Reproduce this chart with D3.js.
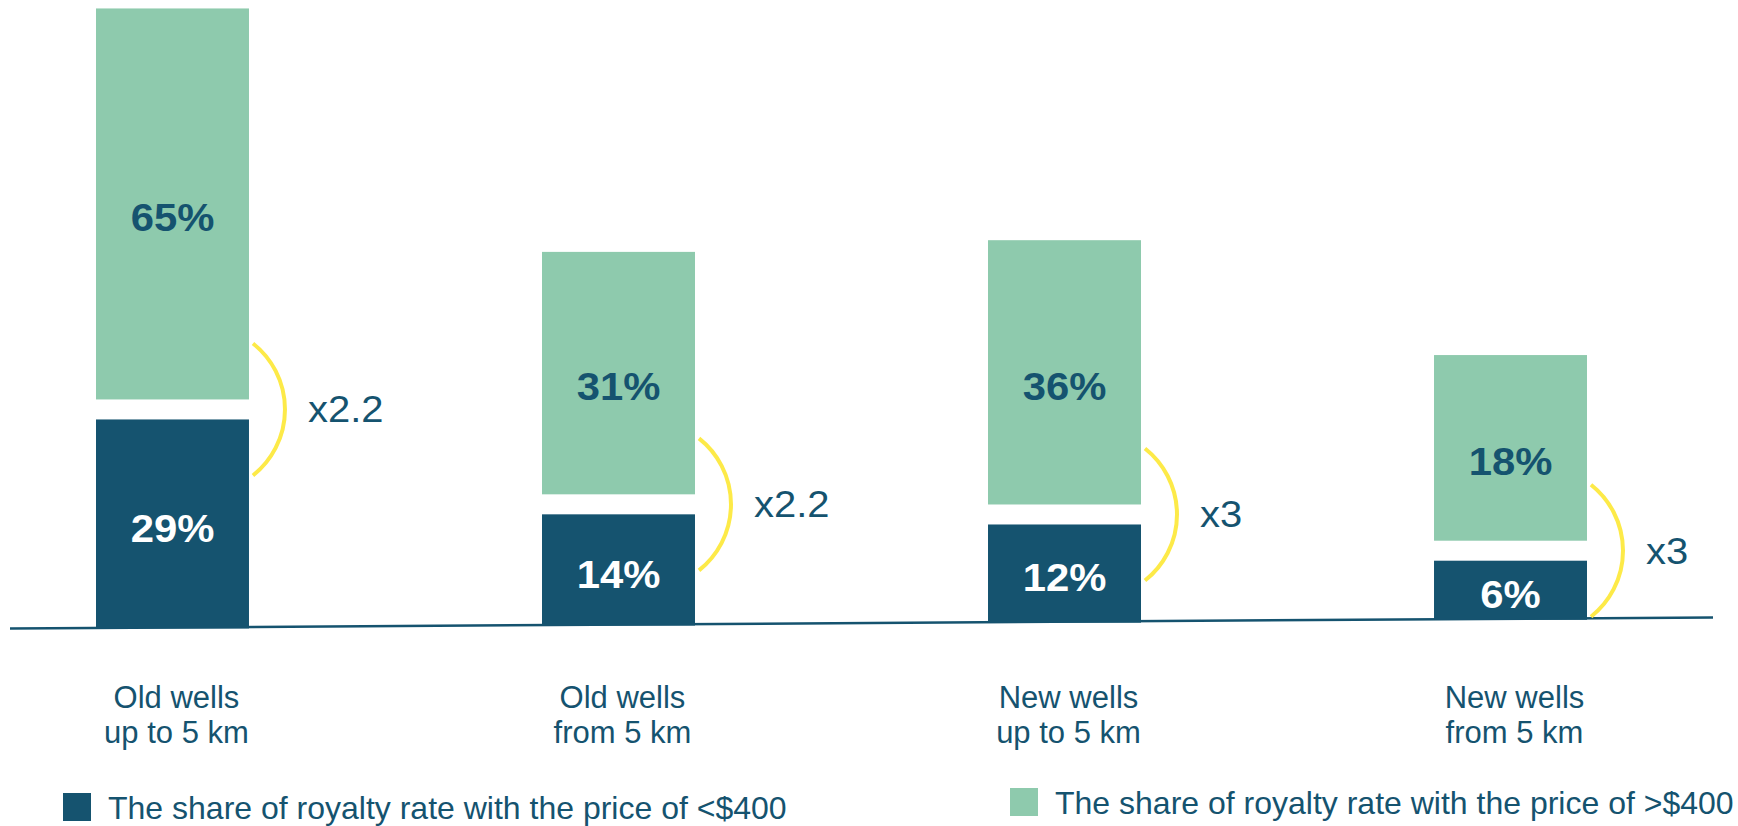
<!DOCTYPE html>
<html>
<head>
<meta charset="utf-8">
<script src="https://cdn.jsdelivr.net/npm/d3@7"></script>
<style>
  body { margin: 0; background: #fff; }
  svg { display: block; font-family: "Liberation Sans", Arial, sans-serif; }
</style>
</head>
<body>
<div id="chart"></div>
<script>
// data
const categories = ["Old wells|up to 5 km", "Old wells|from 5 km", "New wells|up to 5 km", "New wells|from 5 km"];
const lowShare = [29, 14, 12, 6];     // price < $400
const highShare = [65, 31, 36, 18];   // price > $400
const ratios = ["x2.2", "x2.2", "x3", "x3"];
const legendLabels = ["The share of royalty rate with the price of <$400", "The share of royalty rate with the price of >$400"];

let width = 1738,
    height = 826;

const dark = "#15536f",
      green = "#8ecaad",
      yellow = "#fdea48";

const svg = d3.select("#chart")
    .append("svg")
    .attr("width", width)
    .attr("height", height)
    .attr("viewBox", [0, 0, width, height]);

const x = d3.scaleBand()
    .domain(categories)
    .range([96, 1587])
    .paddingInner(0.657)
    .paddingOuter(0);

// the base line is slightly tilted in the picture
const base = d3.scaleLinear()
    .domain([10, 1713])
    .range([628.5, 617.5]);

// the two series are not drawn on a common scale in the original
const hLow = d3.scaleLinear().domain([0, 29]).range([19, 208]);
const hHigh = d3.scaleLinear().domain([0, 65]).range([107, 391]);
const gap = 20;

const rows = categories.map((c, i) => {
    const x0 = x(c);
    const bottom = base(x0 + x.bandwidth() / 2);
    const lowTop = bottom - hLow(lowShare[i]);
    const highBottom = lowTop - gap;
    const highTop = highBottom - hHigh(highShare[i]);
    return { c, i, x0, bottom, lowTop, highBottom, highTop };
});

// axis line
svg.append("line")
    .attr("x1", 10).attr("y1", base(10))
    .attr("x2", 1713).attr("y2", base(1713))
    .attr("stroke", dark)
    .attr("stroke-width", 2.5);

const bars = svg.append("g").attr("class", "bars");

bars.selectAll("rect.low")
    .data(rows)
    .enter().append("rect")
        .attr("class", "low")
        .attr("x", d => d.x0)
        .attr("y", d => d.lowTop)
        .attr("width", x.bandwidth())
        .attr("height", d => d.bottom - d.lowTop + 1)
        .attr("fill", dark);

bars.selectAll("rect.high")
    .data(rows)
    .enter().append("rect")
        .attr("class", "high")
        .attr("x", d => d.x0)
        .attr("y", d => d.highTop)
        .attr("width", x.bandwidth())
        .attr("height", d => d.highBottom - d.highTop)
        .attr("fill", green);

// value labels (the original text is a little stretched horizontally)
const vals = svg.append("g")
    .attr("font-weight", "bold")
    .attr("font-size", 38)
    .attr("text-anchor", "middle");

vals.selectAll("text.high")
    .data(rows)
    .enter().append("text")
        .attr("transform", d => `translate(${d.x0 + x.bandwidth() / 2},${(d.highTop + d.highBottom) / 2 + 14}) scale(1.1,1)`)
        .attr("dy", "0.35em")
        .attr("fill", dark)
        .text(d => highShare[d.i] + "%");

vals.selectAll("text.low")
    .data(rows)
    .enter().append("text")
        .attr("transform", d => `translate(${d.x0 + x.bandwidth() / 2},${(d.lowTop + d.bottom) / 2 + 5}) scale(1.1,1)`)
        .attr("dy", "0.35em")
        .attr("fill", "#fff")
        .text(d => lowShare[d.i] + "%");

// yellow brackets with the ratio
const halfH = 66, bulge = 32;
const r = (halfH * halfH + bulge * bulge) / (2 * bulge);
const theta = Math.asin(halfH / r);

rows.forEach(d => {
    const xr = d.x0 + x.bandwidth() + 4;
    const cy = (d.lowTop + d.highBottom) / 2;
    const p = d3.path();
    p.arc(xr + bulge - r, cy, r, -theta, theta, false);
    svg.append("path")
        .attr("d", p.toString())
        .attr("fill", "none")
        .attr("stroke", yellow)
        .attr("stroke-width", 4);

    svg.append("text")
        .attr("transform", `translate(${xr + 55},${cy}) scale(1.08,1)`)
        .attr("dy", "0.35em")
        .attr("font-size", 37)
        .attr("fill", dark)
        .text(ratios[d.i]);
});

// category labels
const cats = svg.append("g")
    .attr("font-size", 31)
    .attr("fill", dark)
    .attr("text-anchor", "middle");

cats.selectAll("text")
    .data(rows)
    .enter().append("text")
        .attr("x", d => d.x0 + x.bandwidth() / 2 + 4)
        .attr("y", 708)
        .selectAll("tspan")
        .data(d => d.c.split("|"))
        .enter().append("tspan")
            .attr("x", function() { return this.parentNode.getAttribute("x"); })
            .attr("dy", (t, j) => j === 0 ? 0 : 35)
            .text(t => t);

// legend
const legend = [
    { label: legendLabels[0], color: dark, x: 63, y: 793 },
    { label: legendLabels[1], color: green, x: 1010, y: 788 }
];

const lg = svg.selectAll("g.legend")
    .data(legend)
    .enter().append("g")
        .attr("class", "legend")
        .attr("transform", d => `translate(${d.x},${d.y})`);

lg.append("rect")
    .attr("width", 28)
    .attr("height", 28)
    .attr("fill", d => d.color);

lg.append("text")
    .attr("x", 45)
    .attr("y", 26)
    .attr("font-size", 32)
    .attr("fill", dark)
    .text(d => d.label);
</script>
</body>
</html>
